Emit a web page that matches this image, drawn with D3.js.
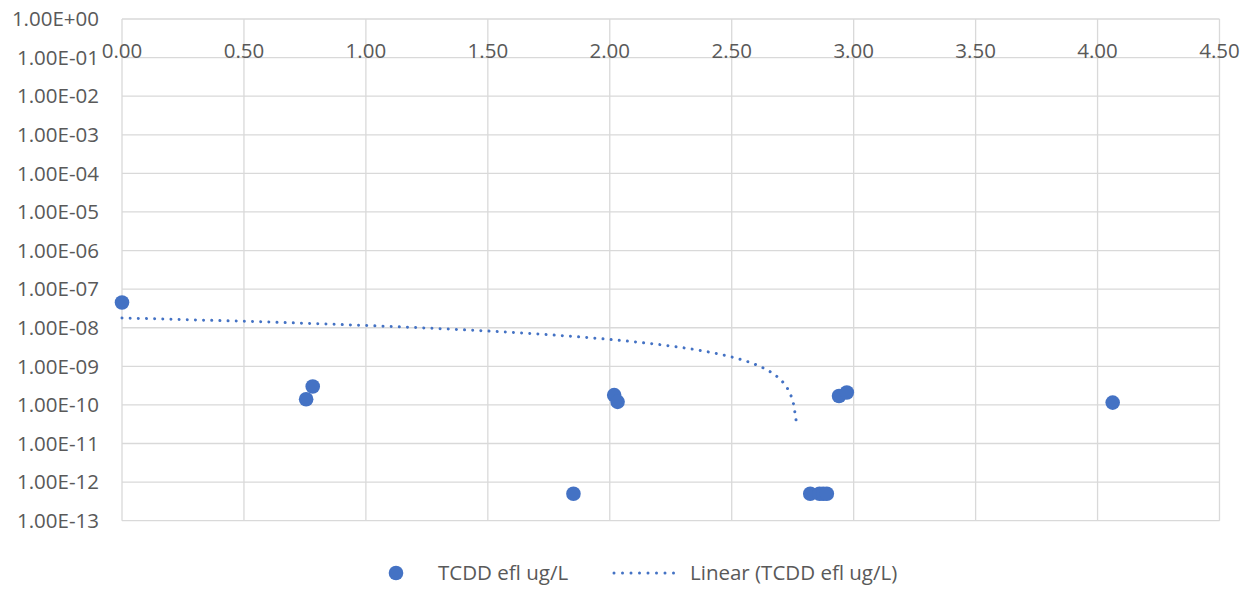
<!DOCTYPE html>
<html>
<head>
<meta charset="utf-8">
<script src="https://cdn.jsdelivr.net/npm/d3@7"></script>
<style>
  html, body { margin: 0; padding: 0; background: #ffffff; }
  svg { display: block; font-family: "Open Sans", sans-serif; }
</style>
</head>
<body>
<svg id="chart" width="1256" height="589"></svg>
<script>
// ---- data ----
const seriesName = "TCDD efl ug/L";
const xValues = [0.00, 0.755, 0.782, 1.851, 2.018, 2.032, 2.822, 2.86, 2.875, 2.89, 2.94, 2.972, 4.062];
const yValues = [4.5e-8, 1.4e-10, 3.0e-10, 5.0e-13, 1.8e-10, 1.2e-10, 5.0e-13, 5.0e-13, 5.0e-13, 5.0e-13, 1.7e-10, 2.1e-10, 1.15e-10];
const xTicks = [0, 0.5, 1, 1.5, 2, 2.5, 3, 3.5, 4, 4.5];
const yTickExponents = [0, -1, -2, -3, -4, -5, -6, -7, -8, -9, -10, -11, -12, -13];
const trendCutoff = 4e-11; // lowest value at which the drawn trendline stops

(function () {
// ---- layout ----
const svg = d3.select("#chart");
const plotLeft = 122, plotRight = 1219.5, plotTop = 19, plotBottom = 520.7;
const textColor = "#595959", gridColor = "#d9d9d9", markColor = "#4472C4";

const x = d3.scaleLinear().domain([0, 4.5]).range([plotLeft, plotRight]);
const y = d3.scaleLog().domain([1e-13, 1]).range([plotBottom, plotTop]);

// gridlines
const grid = svg.append("g");
grid.selectAll("line.h").data(yTickExponents).join("line").attr("class", "h")
  .attr("x1", plotLeft).attr("x2", plotRight)
  .attr("y1", d => y(Math.pow(10, d))).attr("y2", d => y(Math.pow(10, d)))
  .attr("stroke", gridColor).attr("stroke-width", 1.3);
grid.selectAll("line.v").data(xTicks).join("line").attr("class", "v")
  .attr("y1", plotTop).attr("y2", plotBottom)
  .attr("x1", d => x(d)).attr("x2", d => x(d))
  .attr("stroke", gridColor).attr("stroke-width", 1.3);

// y axis labels
const fmtExp = e => "1.00E" + (e >= 0 ? "+" : "-") + String(Math.abs(e)).padStart(2, "0");
svg.append("g").selectAll("text").data(yTickExponents).join("text")
  .attr("x", 99).attr("y", d => y(Math.pow(10, d)))
  .attr("dy", "0.35em").attr("text-anchor", "end")
  .attr("fill", textColor).attr("font-size", 20.5)
  .text(d => fmtExp(d));

// x axis labels (top)
svg.append("g").selectAll("text").data(xTicks).join("text")
  .attr("x", d => x(d)).attr("y", 57.5)
  .attr("text-anchor", "middle")
  .attr("fill", textColor).attr("font-size", 20.5)
  .text(d => d.toFixed(2));

// linear trendline (least squares on the data, as the chart's "Linear" trendline)
const n = xValues.length;
const mx = d3.mean(xValues), my = d3.mean(yValues);
let sxy = 0, sxx = 0;
for (let i = 0; i < n; i++) { sxy += (xValues[i] - mx) * (yValues[i] - my); sxx += (xValues[i] - mx) ** 2; }
const slope = sxy / sxx, intercept = my - slope * mx;
const xEnd = (trendCutoff - intercept) / slope;
const trend = d3.range(0, 301).map(i => xEnd * i / 300)
  .map(xv => [xv, intercept + slope * xv]);

const trendPath = svg.append("path")
  .datum(trend)
  .attr("fill", "none").attr("stroke", markColor)
  .attr("stroke-width", 3).attr("stroke-linecap", "round")
  .attr("d", d3.line().x(d => x(d[0])).y(d => y(d[1])));
const L = trendPath.node().getTotalLength();
const gap = (L - 0.5) / Math.round(L / 8.2);
trendPath.attr("stroke-dasharray", "0.01 " + (gap - 0.01));

// points
svg.append("g").selectAll("circle").data(xValues.map((v, i) => [v, yValues[i]])).join("circle")
  .attr("cx", d => x(d[0])).attr("cy", d => y(d[1])).attr("r", 7.3)
  .attr("fill", markColor);

// legend
const lg = svg.append("g");
lg.append("circle").attr("cx", 396).attr("cy", 573).attr("r", 7.3).attr("fill", markColor);
lg.append("text").attr("x", 438).attr("y", 573).attr("dy", "0.35em")
  .attr("fill", textColor).attr("font-size", 20.5).text(seriesName);
lg.append("line").attr("x1", 614).attr("x2", 682).attr("y1", 573).attr("y2", 573)
  .attr("stroke", markColor).attr("stroke-width", 3).attr("stroke-linecap", "round")
  .attr("stroke-dasharray", "0 8.5");
lg.append("text").attr("x", 690).attr("y", 573).attr("dy", "0.35em")
  .attr("fill", textColor).attr("font-size", 20.5).text("Linear (" + seriesName + ")");
})();
</script>
</body>
</html>
